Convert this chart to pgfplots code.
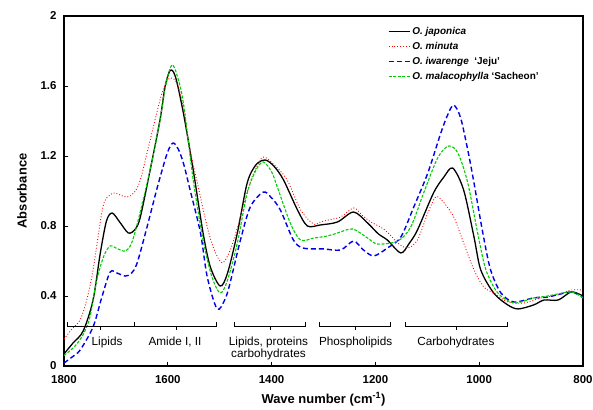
\documentclass[border=0pt]{standalone}
\usepackage{pgfplots}
\pgfplotsset{compat=1.18}
\usepackage{fontspec}
\setmainfont{Liberation Sans}
\definecolor{myred}{RGB}{255,0,0}
\definecolor{myblue}{RGB}{0,0,235}
\definecolor{mygreen}{RGB}{0,205,0}
\begin{document}
\begin{tikzpicture}
\begin{axis}[
  scale only axis, width=519bp, height=350bp,
  xmin=800, xmax=1800, x dir=reverse,
  ymin=0, ymax=2,
  xtick={800,1000,1200,1400,1600,1800},
  xticklabels={800,1000,1200,1400,1600,1800},
  ytick={0,0.4,0.8,1.2,1.6,2},
  yticklabels={0,0.4,0.8,1.2,1.6,2},
  xtick pos=bottom, ytick pos=left,
  tick align=inside, major tick length=4bp,
  tick style={black, line width=0.8bp},
  axis line style={line width=1.2bp},
  /pgf/number format/assume math mode=true,
  ticklabel style={font=\fontsize{11.5}{13}\selectfont\bfseries},
  xticklabel style={yshift=-6bp},
  yticklabel style={xshift=-4bp},
  xlabel={\textbf{Wave number (cm\textsuperscript{-1})}},
  ylabel={\textbf{Absorbance}},
  label style={font=\fontsize{13}{15}\selectfont},
  xlabel style={yshift=-2bp},
  ylabel style={yshift=7bp},
  legend style={at={(rel axis cs:0.622,0.978)}, anchor=north west, draw=none, fill=none,
    font=\fontsize{10}{12}\selectfont\bfseries, row sep=2.4bp, inner sep=1bp},
  legend cell align=left,
  legend image code/.code={\draw[#1] (0bp,0bp) -- (21bp,0bp);},
  every axis plot/.append style={smooth, tension=0.5},
]
\addplot[black, line width=1.3bp] coordinates {
(1800,0.069) (1783,0.13) (1763,0.20) (1744,0.377) (1730,0.646) (1718,0.83) (1707,0.874)
(1692,0.82) (1676,0.76) (1663,0.78) (1653,0.85) (1634,1.12) (1615,1.406) (1605,1.60)
(1595,1.69) (1585,1.65) (1570,1.446) (1551,1.12) (1532,0.76) (1518,0.566) (1499,0.457)
(1485,0.53) (1466,0.76) (1447,1.046) (1430,1.15) (1412,1.177) (1395,1.14) (1377,1.063)
(1350,0.891) (1331,0.80) (1306,0.806) (1273,0.823) (1242,0.88) (1215,0.817) (1194,0.754)
(1177,0.72) (1151,0.646) (1135,0.70) (1119,0.777) (1088,0.989) (1068,1.08) (1051,1.131)
(1030,1.006) (1010,0.737) (997,0.549) (972,0.417) (945,0.349) (925,0.326) (895,0.349)
(875,0.377) (848,0.377) (823,0.423) (804,0.406) (800,0.40)};
\addlegendentry{\textit{O. japonica}}
\addplot[myred, dotted, line width=0.9bp] coordinates {
(1800,0.154) (1785,0.21) (1769,0.263) (1756,0.38) (1744,0.549) (1725,0.909) (1712,0.975)
(1702,0.989) (1690,0.975) (1678,0.966) (1665,0.99) (1653,1.063) (1634,1.291) (1615,1.52)
(1605,1.61) (1595,1.646) (1583,1.62) (1570,1.48) (1557,1.234) (1543,1.046) (1524,0.794)
(1510,0.66) (1495,0.589) (1480,0.66) (1466,0.79) (1454,0.92) (1440,1.06) (1430,1.13)
(1416,1.194) (1395,1.15) (1370,1.063) (1344,0.891) (1319,0.811) (1306,0.823) (1290,0.835)
(1267,0.851) (1242,0.903) (1225,0.86) (1209,0.823) (1190,0.794) (1175,0.76) (1157,0.703)
(1138,0.674) (1119,0.72) (1099,0.874) (1084,0.966) (1070,0.94) (1049,0.851) (1030,0.703)
(1010,0.549) (991,0.451) (972,0.417) (945,0.366) (914,0.36) (881,0.389) (848,0.406)
(823,0.434) (800,0.434)};
\addlegendentry{\textit{O. minuta}}
\addplot[myblue, dash pattern=on 5bp off 3bp, line width=1.4bp] coordinates {
(1800,0.017) (1785,0.05) (1769,0.091) (1744,0.223) (1727,0.394) (1711,0.537) (1697,0.53)
(1682,0.514) (1670,0.53) (1659,0.589) (1640,0.794) (1620,1.023) (1601,1.217) (1590,1.274)
(1580,1.24) (1570,1.16) (1557,1.006) (1537,0.76) (1524,0.509) (1505,0.326) (1490,0.38)
(1480,0.474) (1460,0.72) (1441,0.909) (1416,0.994) (1400,0.96) (1383,0.891) (1358,0.72)
(1339,0.674) (1300,0.669) (1267,0.663) (1242,0.714) (1223,0.663) (1203,0.629) (1177,0.674)
(1151,0.737) (1126,0.909) (1099,1.103) (1074,1.331) (1060,1.44) (1049,1.491) (1036,1.42)
(1022,1.234) (1010,1.046) (993,0.76) (978,0.549) (958,0.417) (933,0.366) (895,0.389)
(868,0.394) (823,0.423) (800,0.389)};
\addlegendentry{\textit{O. iwarenge}\ \ `Jeju'}
\addplot[mygreen, dash pattern=on 3bp off 1.5bp, line width=1.1bp] coordinates {
(1800,0.06) (1780,0.11) (1763,0.18) (1750,0.28) (1737,0.491) (1723,0.63) (1711,0.686)
(1697,0.67) (1682,0.657) (1670,0.70) (1657,0.834) (1634,1.12) (1615,1.406) (1603,1.62)
(1592,1.72) (1582,1.66) (1570,1.503) (1551,1.063) (1532,0.72) (1515,0.51) (1499,0.417)
(1485,0.49) (1466,0.703) (1447,0.989) (1430,1.12) (1416,1.166) (1400,1.11) (1389,1.023)
(1364,0.817) (1344,0.72) (1319,0.731) (1292,0.743) (1273,0.76) (1244,0.783) (1215,0.731)
(1196,0.697) (1157,0.714) (1132,0.794) (1107,0.989) (1080,1.189) (1059,1.257) (1041,1.217)
(1022,1.046) (1003,0.76) (987,0.549) (964,0.417) (933,0.36) (895,0.389) (868,0.40)
(823,0.423) (800,0.389)};
\addlegendentry{\textit{O. malacophylla} `Sacheon'}
% bracket annotations
\begin{scope}[line width=0.8bp, black]
\draw (axis cs:1794,0.251) -- (axis cs:1794,0.229) -- (axis cs:1665,0.229) -- (axis cs:1507,0.229) -- (axis cs:1507,0.251);
\draw (axis cs:1665,0.229) -- (axis cs:1665,0.251);
\draw (axis cs:1730,0.229) -- (axis cs:1730,0.206);
\draw (axis cs:1584,0.229) -- (axis cs:1584,0.206);
\draw (axis cs:1472,0.251) -- (axis cs:1472,0.229) -- (axis cs:1335,0.229) -- (axis cs:1335,0.251);
\draw (axis cs:1402,0.229) -- (axis cs:1402,0.206);
\draw (axis cs:1308,0.251) -- (axis cs:1308,0.229) -- (axis cs:1171,0.229) -- (axis cs:1171,0.251);
\draw (axis cs:1238,0.229) -- (axis cs:1238,0.206);
\draw (axis cs:1142,0.251) -- (axis cs:1142,0.229) -- (axis cs:945,0.229) -- (axis cs:945,0.251);
\draw (axis cs:1043,0.229) -- (axis cs:1043,0.206);
\end{scope}
\begin{scope}[every node/.style={font=\fontsize{11.8}{13}\selectfont, inner sep=0pt}]
\node at (axis cs:1717,0.137) {Lipids};
\node at (axis cs:1586,0.137) {Amide I, II};
\node at (axis cs:1406,0.137) {Lipids, proteins};
\node at (axis cs:1406,0.068) {carbohydrates};
\node at (axis cs:1238,0.137) {Phospholipids};
\node at (axis cs:1045,0.137) {Carbohydrates};
\end{scope}
\end{axis}
\pgfresetboundingbox
\path[use as bounding box] ([shift={(-64bp,-44bp)}]current axis.south west) rectangle ([shift={(10bp,16bp)}]current axis.north east);
\end{tikzpicture}
\end{document}
